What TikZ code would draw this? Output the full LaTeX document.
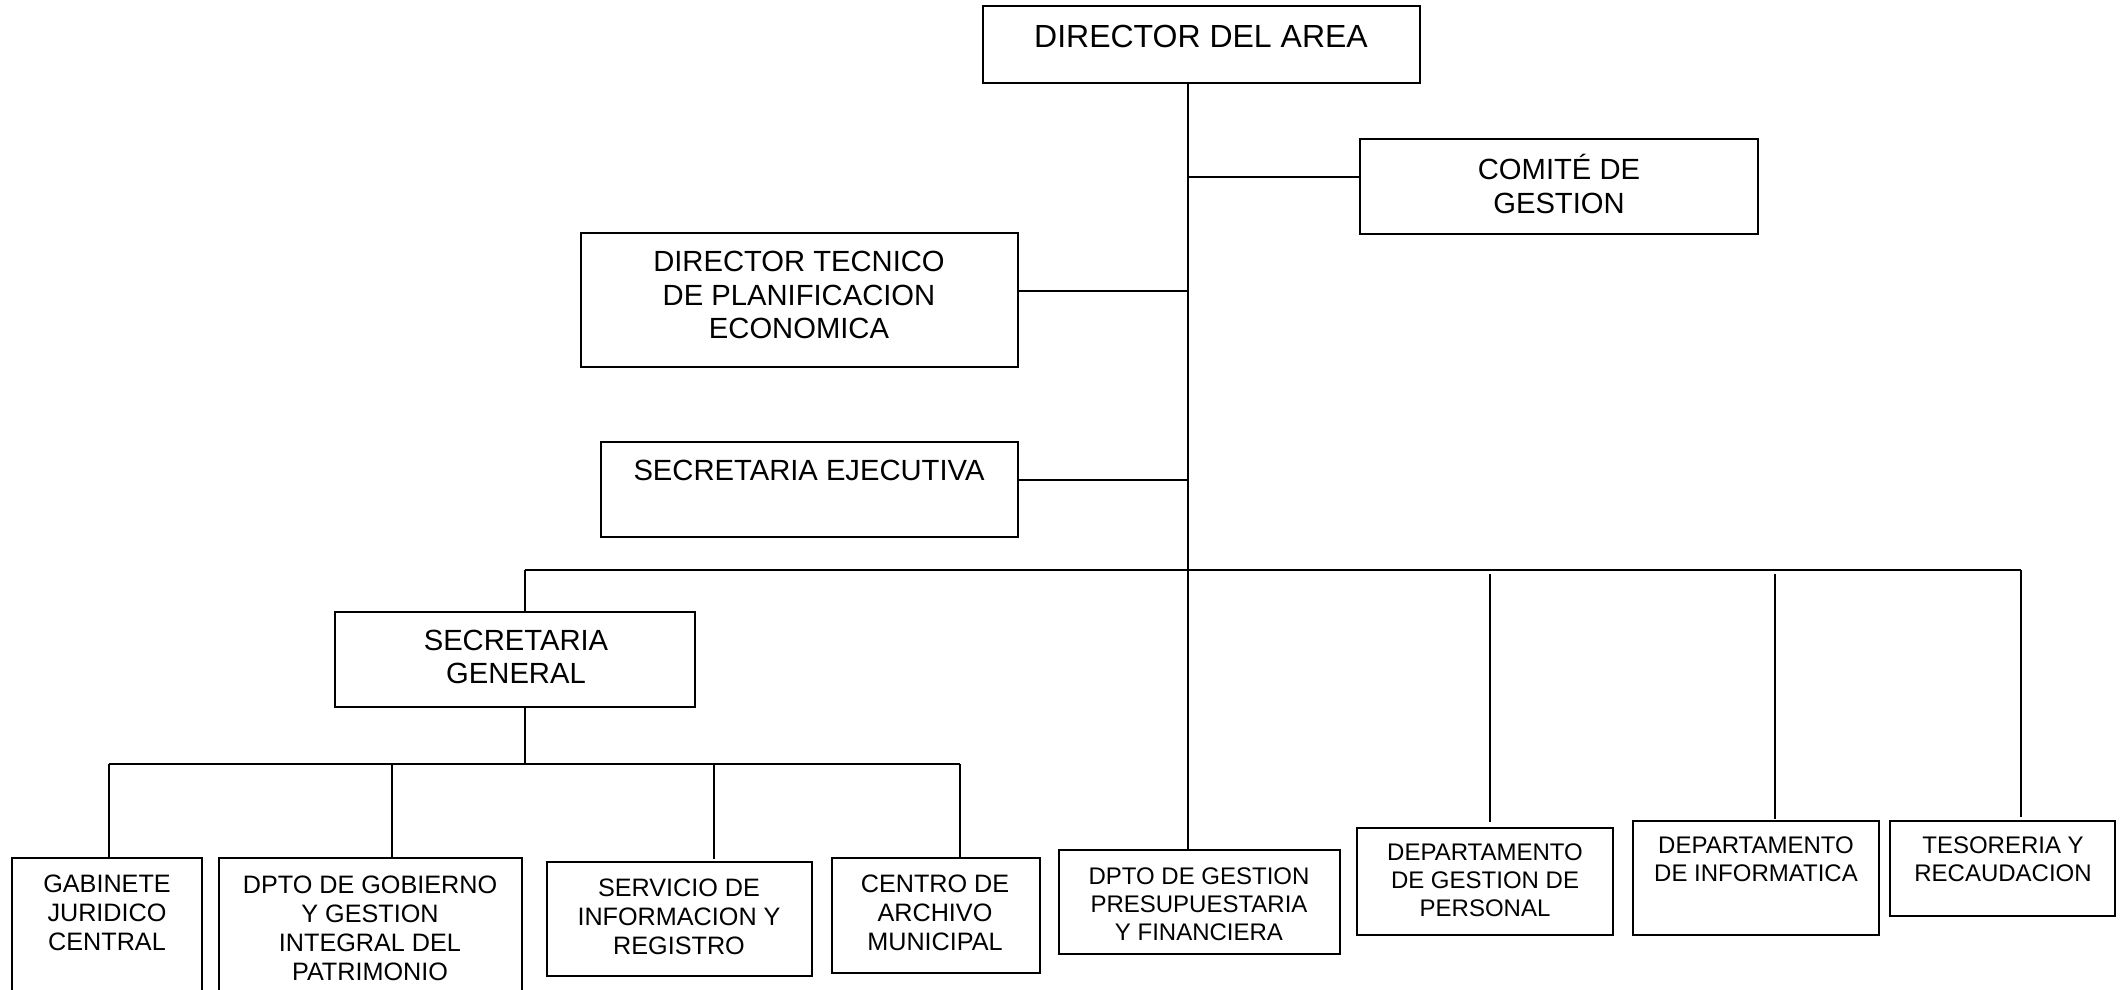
\documentclass[tikz,border=0pt]{standalone}
\usepackage{fontspec}
\setmainfont{Liberation Sans}
\begin{document}
\begin{tikzpicture}[x=0.5pt,y=-0.5pt,
  box/.style={draw, line width=1.3pt, rectangle, inner sep=0pt},
  conn/.style={line width=1pt},
  txt/.style={align=center, inner sep=0pt},
  huge/.style={font=\fontsize{16}{18}\selectfont},
  big/.style={font=\fontsize{14.6}{16.6}\selectfont},
  mid/.style={font=\fontsize{12.6}{14.5}\selectfont},
  sml/.style={font=\fontsize{12}{14}\selectfont}]
\newcommand\obox[5]{\node[box, minimum width={(#4-#2)*0.5pt}, minimum height={(#5-#3)*0.5pt}] (#1) at ({(#2+#4)/2},{(#3+#5)/2}) {};}
\clip (0,0) rectangle (2121,990);
\fill[white] (0,0) rectangle (2121,990);
% boxes
\obox{dir}{983}{6}{1420}{83}
\obox{com}{1360}{139}{1758}{234}
\obox{tec}{581}{233}{1018}{367}
\obox{sej}{601}{442}{1018}{537}
\obox{sg}{335}{612}{695}{707}
\obox{gab}{12}{858}{202}{1010}
\obox{gob}{219}{858}{522}{1010}
\obox{serv}{547}{862}{812}{976}
\obox{cen}{832}{858}{1040}{973}
\obox{pres}{1059}{850}{1340}{954}
\obox{pers}{1357}{828}{1613}{935}
\obox{inf}{1633}{821}{1879}{935}
\obox{tes}{1890}{821}{2115}{916}
% texts
\node[txt,huge] (tdir) at (1201,36) {DIRECTOR DEL AREA};
\node[txt,big] (tcom) at (1559,184) {COMITÉ DE\\GESTION};
\node[txt,big] (ttec) at (799,295) {DIRECTOR TECNICO\\DE PLANIFICACION\\ECONOMICA};
\node[txt,big] (tsej) at (809,470) {SECRETARIA EJECUTIVA};
\node[txt,big] (tsg) at (516,657) {SECRETARIA\\GENERAL};
\node[txt,mid] (tgab) at (107,913) {GABINETE\\JURIDICO\\CENTRAL};
\node[txt,mid] (tgob) at (370,928) {DPTO DE GOBIERNO\\Y GESTION\\INTEGRAL DEL\\PATRIMONIO};
\node[txt,mid] (tserv) at (679,917) {SERVICIO DE\\INFORMACION Y\\REGISTRO};
\node[txt,mid] (tcen) at (935,913) {CENTRO DE\\ARCHIVO\\MUNICIPAL};
\node[txt,sml] (tpres) at (1199,904) {DPTO DE GESTION\\PRESUPUESTARIA\\Y FINANCIERA};
\node[txt,sml] (tpers) at (1485,880) {DEPARTAMENTO\\DE GESTION DE\\PERSONAL};
\node[txt,sml] (tinf) at (1756,859) {DEPARTAMENTO\\DE INFORMATICA};
\node[txt,sml] (ttes) at (2003,859) {TESORERIA Y\\RECAUDACION};
% junction coordinates
\coordinate (j) at (1188,570);
\coordinate (cm) at (1360,177);
\coordinate (tc) at (1018,291);
\coordinate (sc) at (1018,480);
\coordinate (bl) at (525,570);
\coordinate (br) at (2021,570);
\coordinate (b2) at (525,764);
\coordinate (b2l) at (109,764);
\coordinate (b2r) at (960,764);
% connectors
\draw[conn] (j |- dir.south) -- (j |- pres.north);
\draw[conn] (j |- cm) -- (cm);
\draw[conn] (tc) -- (j |- tc);
\draw[conn] (sc) -- (j |- sc);
\draw[conn] (bl) -- (br);
\draw[conn] (bl) -- (bl |- sg.north);
\draw[conn] (b2 |- sg.south) -- (b2);
\draw[conn] (b2l) -- (b2r);
\draw[conn] (b2l) -- (b2l |- gab.north);
\draw[conn] (392,764) coordinate (d2) -- (d2 |- gob.north);
\draw[conn] (714,764) coordinate (d3) -- (714,859) coordinate (d3e);
\draw[conn] (b2r) -- (b2r |- cen.north);
\draw[conn] (1490,574) coordinate (d5) -- (1490,822) coordinate (d5e);
\draw[conn] (1775,574) coordinate (d6) -- (1775,819) coordinate (d6e);
\draw[conn] (br) -- (2021,817) coordinate (d7e);
\end{tikzpicture}
\end{document}
